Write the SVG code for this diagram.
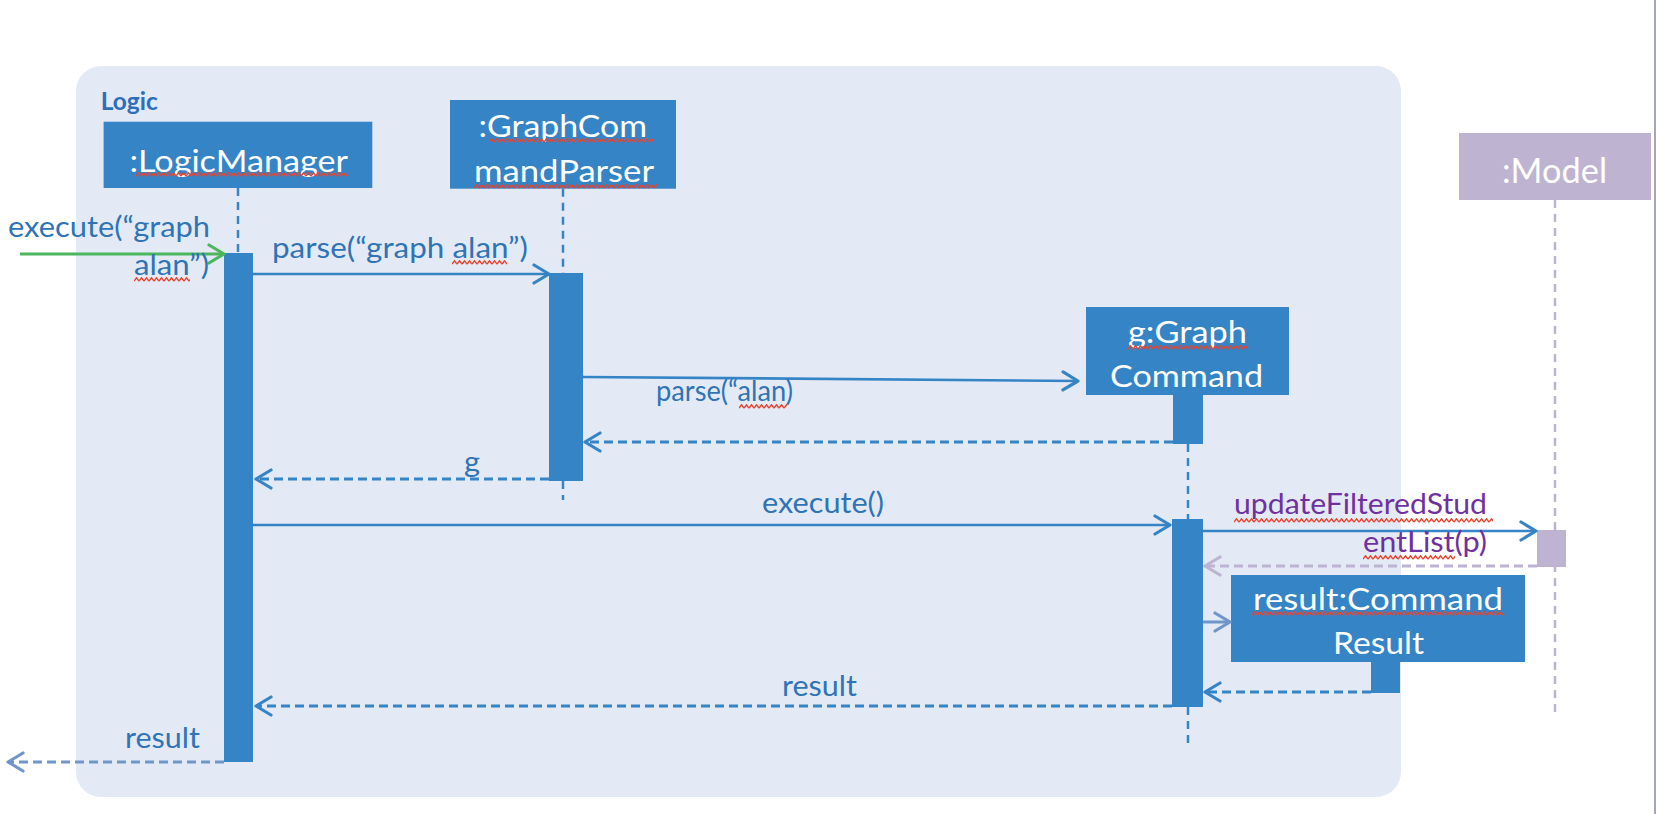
<svg xmlns="http://www.w3.org/2000/svg" width="1656" height="814" viewBox="0 0 1656 814">
<style>
  .t{font-family:Lato,"Liberation Sans",sans-serif}
  .bt{font-family:Lato,"Liberation Sans",sans-serif;fill:#FFFFFF;font-size:31.5px}
  .lbl{font-family:Lato,"Liberation Sans",sans-serif;fill:#2E74B7;font-size:28.5px}
  .pl{font-family:Lato,"Liberation Sans",sans-serif;fill:#7030A0;font-size:28.5px}
  .box{fill:#3584C6}
  .act{fill:#3584C6}
  .life{stroke:#3584C6;stroke-width:2.5;stroke-dasharray:8 6;fill:none}
  .mlife{stroke:#BDB3D2;stroke-width:2.5;stroke-dasharray:8 6;fill:none}
  .msg{stroke:#3584C6;stroke-width:2.7;fill:none;marker-end:url(#ab)}
  .ret{stroke:#3584C6;stroke-width:3;stroke-dasharray:9 5;fill:none;marker-end:url(#ab)}
</style>
<defs>
  <marker id="ab" viewBox="-17 -11 20 22" refX="0" refY="0" markerWidth="20" markerHeight="22" markerUnits="userSpaceOnUse" orient="auto">
    <path d="M-15,-9 L0,0 L-15,9" fill="none" stroke="#3584C6" stroke-width="3.2" stroke-linecap="round" stroke-linejoin="round"/>
  </marker>
  <marker id="ag" viewBox="-17 -11 20 22" refX="0" refY="0" markerWidth="20" markerHeight="22" markerUnits="userSpaceOnUse" orient="auto">
    <path d="M-15,-9 L0,0 L-15,9" fill="none" stroke="#4CB65F" stroke-width="3.2" stroke-linecap="round" stroke-linejoin="round"/>
  </marker>
  <marker id="al" viewBox="-17 -11 20 22" refX="0" refY="0" markerWidth="20" markerHeight="22" markerUnits="userSpaceOnUse" orient="auto">
    <path d="M-15,-9 L0,0 L-15,9" fill="none" stroke="#BDB3D2" stroke-width="3.2" stroke-linecap="round" stroke-linejoin="round"/>
  </marker>
  <marker id="alb" viewBox="-17 -11 20 22" refX="0" refY="0" markerWidth="20" markerHeight="22" markerUnits="userSpaceOnUse" orient="auto">
    <path d="M-15,-9 L0,0 L-15,9" fill="none" stroke="#6F95CA" stroke-width="3.2" stroke-linecap="round" stroke-linejoin="round"/>
  </marker>
  <pattern id="sq" x="0" y="0" width="5" height="5" patternUnits="userSpaceOnUse">
    <path d="M0,4.2 L2.5,0.8 L5,4.2" fill="none" stroke="#E8432E" stroke-width="1.4"/>
  </pattern>
</defs>

<rect x="0" y="0" width="1656" height="814" fill="#FFFFFF"/>
<line x1="1655" y1="0" x2="1655" y2="814" stroke="#8A8A94" stroke-width="1.5"/>

<g id="logic-frame">
  <rect x="76" y="66" width="1325" height="731" rx="25" ry="25" fill="#E4EAF5"/>
  <text class="t" x="100.7" y="109.5" font-size="25" font-weight="bold" fill="#2E6FBA" textLength="57" lengthAdjust="spacingAndGlyphs">Logic</text>
</g>

<g id="logicmanager">
  <line class="life" x1="238" y1="188" x2="238" y2="253"/>
  <rect class="box" x="103.6" y="121.7" width="268.7" height="66.3"/>
  <text class="bt" x="129.5" y="171.7" textLength="218.5" lengthAdjust="spacingAndGlyphs">:LogicManager</text>
  <rect x="0" y="0" width="212" height="5" fill="url(#sq)" transform="translate(136,172)"/>
  <rect class="act" x="224" y="253" width="29" height="509"/>
</g>

<g id="graphcommandparser">
  <line class="life" x1="563" y1="188.7" x2="563" y2="273"/>
  <line class="life" x1="563" y1="481" x2="563" y2="500"/>
  <rect class="box" x="450" y="100" width="226" height="88.7"/>
  <text class="bt" x="478.6" y="137" textLength="168.4" lengthAdjust="spacingAndGlyphs">:GraphCom</text>
  <text class="bt" x="474" y="181.5" textLength="180" lengthAdjust="spacingAndGlyphs">mandParser</text>
  <rect x="0" y="0" width="165" height="5" fill="url(#sq)" transform="translate(489,138)"/>
  <rect x="0" y="0" width="184" height="5" fill="url(#sq)" transform="translate(474,184)"/>
  <rect class="act" x="549" y="273" width="34" height="208"/>
</g>

<g id="graphcommand">
  <line class="life" x1="1188" y1="444" x2="1188" y2="519"/>
  <line class="life" x1="1188" y1="707" x2="1188" y2="748"/>
  <rect class="box" x="1086" y="307" width="203" height="88"/>
  <text class="bt" x="1128" y="343" textLength="119" lengthAdjust="spacingAndGlyphs">g:Graph</text>
  <text class="bt" x="1110" y="387" textLength="153" lengthAdjust="spacingAndGlyphs">Command</text>
  <rect x="0" y="0" width="120" height="5" fill="url(#sq)" transform="translate(1128,345)"/>
  <rect class="act" x="1173" y="395" width="30" height="49"/>
  <rect class="act" x="1172" y="519" width="31" height="188"/>
</g>

<g id="model">
  <line class="mlife" x1="1555" y1="200" x2="1555" y2="713"/>
  <rect x="1459" y="133" width="192" height="67" fill="#BEB4D1"/>
  <text class="t" x="1502" y="183" font-size="34" fill="#FFFFFF" textLength="105" lengthAdjust="spacingAndGlyphs">:Model</text>
  <rect x="1537" y="530" width="29" height="37" fill="#BEB4D1"/>
</g>

<g id="commandresult">
  <rect class="box" x="1231" y="575" width="294" height="87"/>
  <text class="bt" x="1253" y="610" textLength="250" lengthAdjust="spacingAndGlyphs">result:Command</text>
  <text class="bt" x="1333" y="654" textLength="91" lengthAdjust="spacingAndGlyphs">Result</text>
  <rect x="0" y="0" width="251" height="5" fill="url(#sq)" transform="translate(1252,611)"/>
  <rect class="act" x="1371" y="662" width="29" height="31"/>
</g>

<g id="connectors">
  <line x1="20" y1="254" x2="224" y2="254" stroke="#4CB65F" stroke-width="3" marker-end="url(#ag)"/>
  <line class="msg" x1="253" y1="274" x2="549" y2="274"/>
  <line class="msg" x1="583" y1="377" x2="1078" y2="381"/>
  <line class="ret" x1="1173" y1="442" x2="585" y2="442"/>
  <line class="ret" x1="549" y1="479" x2="256" y2="479"/>
  <line class="msg" x1="253" y1="525" x2="1170" y2="525"/>
  <line class="msg" x1="1203" y1="531" x2="1536" y2="531"/>
  <line x1="1537" y1="566" x2="1205" y2="566" stroke="#BDB3D2" stroke-width="3" stroke-dasharray="9 5" marker-end="url(#al)"/>
  <line x1="1203" y1="622" x2="1230" y2="622" stroke="#6F95CA" stroke-width="3" marker-end="url(#alb)"/>
  <line class="ret" x1="1371" y1="692" x2="1205" y2="692"/>
  <line class="ret" x1="1172" y1="706" x2="256" y2="706"/>
  <line x1="224" y1="762" x2="8" y2="762" stroke="#6F95CA" stroke-width="3" stroke-dasharray="9 5" marker-end="url(#alb)"/>
</g>

<g id="labels">
  <text class="lbl" x="8" y="237" textLength="202" lengthAdjust="spacingAndGlyphs">execute(“graph</text>
  <text class="lbl" x="134" y="275" textLength="75" lengthAdjust="spacingAndGlyphs">alan”)</text>
  <rect x="0" y="0" width="56" height="5" fill="url(#sq)" transform="translate(134,277)"/>
  <text class="lbl" x="272" y="258" textLength="256" lengthAdjust="spacingAndGlyphs">parse(“graph alan”)</text>
  <rect x="0" y="0" width="55" height="5" fill="url(#sq)" transform="translate(452,260)"/>
  <text class="lbl" x="656" y="401" font-size="24.5" textLength="137" lengthAdjust="spacingAndGlyphs">parse(“alan)</text>
  <rect x="0" y="0" width="48" height="5" fill="url(#sq)" transform="translate(739,404)"/>
  <text class="lbl" x="464" y="472" textLength="16" lengthAdjust="spacingAndGlyphs">g</text>
  <text class="lbl" x="762" y="513" textLength="122" lengthAdjust="spacingAndGlyphs">execute()</text>
  <text class="pl" x="1234" y="514" textLength="253" lengthAdjust="spacingAndGlyphs">updateFilteredStud</text>
  <rect x="0" y="0" width="259" height="5" fill="url(#sq)" transform="translate(1234,518)"/>
  <text class="pl" x="1363" y="552" textLength="124" lengthAdjust="spacingAndGlyphs">entList(p)</text>
  <rect x="0" y="0" width="92" height="5" fill="url(#sq)" transform="translate(1363,555)"/>
  <text class="lbl" x="782" y="696" textLength="75" lengthAdjust="spacingAndGlyphs">result</text>
  <text class="lbl" x="125" y="748" textLength="75" lengthAdjust="spacingAndGlyphs">result</text>
</g>
</svg>
